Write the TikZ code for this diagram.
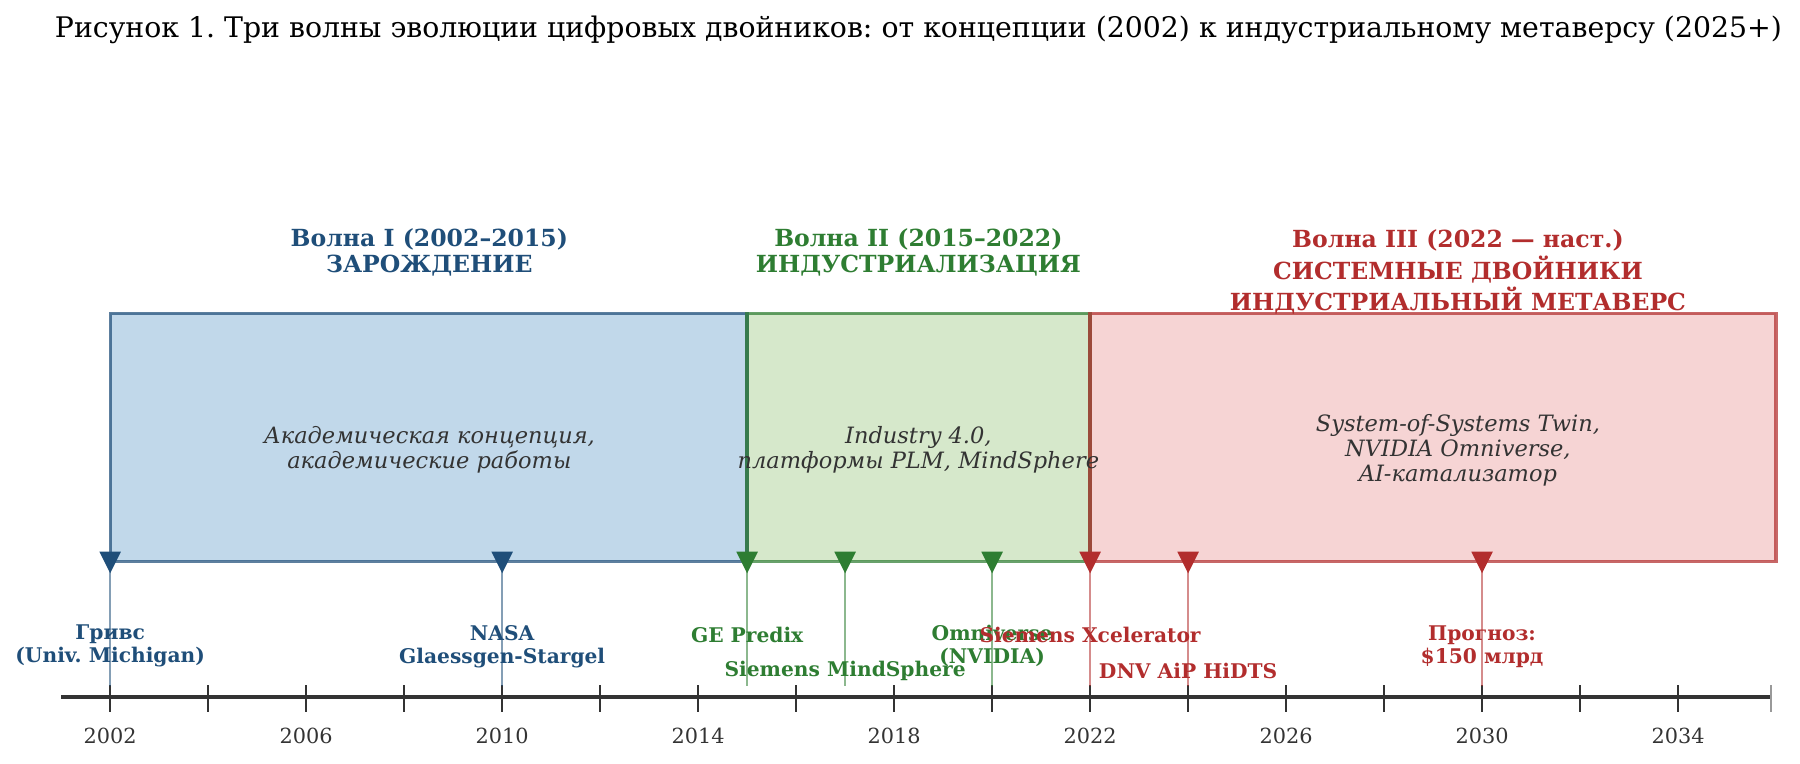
\documentclass[tikz,border=0pt]{standalone}
\usepackage{fontspec}
\setmainfont{DejaVu Serif}
\definecolor{wblue}{HTML}{1F4E79}
\definecolor{wgreen}{HTML}{2E7D32}
\definecolor{wred}{HTML}{B22D2D}
\definecolor{bfill}{HTML}{C1D8EA}
\definecolor{gfill}{HTML}{D6E8CB}
\definecolor{rfill}{HTML}{F6D4D4}
\definecolor{axisgray}{HTML}{333333}
\def\yx#1{(96+((#1)-2002)*42.68)}
\frenchspacing
\begin{document}
\begin{tikzpicture}[x=0.551pt,y=-0.551pt,
  wavebox/.style={line width=1.6pt, draw opacity=0.72},
  heading/.style={font=\bfseries\fontsize{11.3}{12.7}\selectfont, align=center, inner sep=0pt},
  boxtext/.style={font=\itshape\fontsize{10.8}{12}\selectfont, text=axisgray, align=center, inner sep=0pt},
  evlabel/.style={font=\bfseries\fontsize{9.7}{11}\selectfont, align=center, inner sep=0pt},
  evline/.style={line width=1pt, draw opacity=0.55},
  tickmark/.style={line width=1.1pt, draw=axisgray},
  yearlbl/.style={font=\fontsize{10}{12}\selectfont, text=axisgray, inner sep=0pt}
]
\useasboundingbox (0,0) rectangle (1568,665.5);

% title
\node[font=\fontsize{13.6}{15}\selectfont, inner sep=0pt] (title) at (800,26)
  {Рисунок 1. Три волны эволюции цифровых двойников: от концепции (2002) к индустриальному метаверсу (2025+)};

% wave boxes
\path[fill=bfill] ({\yx{2002}},273) rectangle ({\yx{2015}},489);
\path[fill=gfill] ({\yx{2015}},273) rectangle ({\yx{2022}},489);
\path[fill=rfill] ({\yx{2022}},273) rectangle ({\yx{2036}},489);
\draw[wavebox, draw=wblue] ({\yx{2002}},273) rectangle ({\yx{2015}},489);
\draw[wavebox, draw=wgreen] ({\yx{2015}},273) rectangle ({\yx{2022}},489);
\draw[wavebox, draw=wred] ({\yx{2022}},273) rectangle ({\yx{2036}},489);

% headings
\node[heading, text=wblue] (h1) at (374,220) {Волна I (2002–2015)\\ЗАРОЖДЕНИЕ};
\node[heading, text=wgreen] (h2) at (800,220) {Волна II (2015–2022)\\ИНДУСТРИАЛИЗАЦИЯ};
\node[heading, text=wred, font=\bfseries\fontsize{11.3}{15.2}\selectfont] (h3) at (1270,237)
  {Волна III (2022 — наст.)\\СИСТЕМНЫЕ ДВОЙНИКИ\\ИНДУСТРИАЛЬНЫЙ МЕТАВЕРС};

% box texts
\node[boxtext] (b1) at (374,392) {Академическая концепция,\\академические работы};
\node[boxtext] (b2) at (800,392) {Industry 4.0,\\платформы PLM, MindSphere};
\node[boxtext] (b3) at (1270,392.5) {System-of-Systems Twin,\\NVIDIA Omniverse,\\AI-катализатор};

% axis
\coordinate (axL) at ({\yx{2001}},607);
\coordinate (axR) at ({\yx{2035.9}},607);
\draw[line width=2.2pt, draw=axisgray] (axL) -- (axR);
\foreach \y in {2002,2004,...,2034} {
  \draw[tickmark] ({\yx{\y}},597) -- ({\yx{\y}},620);
}
\draw[line width=0.8pt, draw=axisgray!50] ({\yx{2035.9}},597) -- ({\yx{2035.9}},620);
\foreach \y in {2002,2006,...,2034} {
  \node[yearlbl] (y\y) at ({\yx{\y}},641) {\y};
}

% events
\foreach \yr/\nm/\col in {2002/e1/wblue, 2010/e2/wblue, 2015/e3/wgreen, 2017/e4/wgreen, 2020/e5/wgreen, 2022/e6/wred, 2024/e7/wred, 2030/e8/wred} {
  \coordinate (\nm top) at ({\yx{\yr}},490);
  \coordinate (\nm bot) at ({\yx{\yr}},598);
  \draw[evline, draw=\col] (\nm top) -- (\nm bot);
  \fill[\col] (\nm top) ++(-9.4,-9.4) -- ++(18.8,0) -- ++(-9.4,18.8) -- cycle;
}

% event labels
\node[evlabel, text=wblue] (l1) at ({\yx{2002}},563) {Гривс\\(Univ. Michigan)};
\node[evlabel, text=wblue] (l2) at ({\yx{2010}},563) {NASA\\Glaessgen-Stargel};
\node[evlabel, text=wgreen] (l3) at ({\yx{2015}},553) {GE Predix};
\node[evlabel, text=wgreen] (l4) at ({\yx{2017}},584.5) {Siemens MindSphere};
\node[evlabel, text=wgreen] (l5) at ({\yx{2020}},563) {Omniverse\\(NVIDIA)};
\node[evlabel, text=wred] (l6) at ({\yx{2022}},553) {Siemens Xcelerator};
\node[evlabel, text=wred] (l7) at ({\yx{2024}},584.5) {DNV AiP HiDTS};
\node[evlabel, text=wred] (l8) at ({\yx{2030}},563) {Прогноз:\\\$150 млрд};
\end{tikzpicture}
\end{document}
